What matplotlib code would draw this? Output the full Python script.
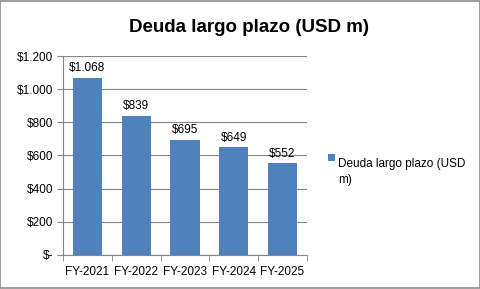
import matplotlib
matplotlib.use("Agg")
import matplotlib.pyplot as plt
from matplotlib.patches import Rectangle

years = ["FY-2021", "FY-2022", "FY-2023", "FY-2024", "FY-2025"]
debt = [1068, 839, 695, 649, 552]
value_labels = ["$1.068", "$839", "$695", "$649", "$552"]
y_ticks = [0, 200, 400, 600, 800, 1000, 1200]
y_tick_labels = ["$-", "$200", "$400", "$600", "$800", "$1.000", "$1.200"]
series_name = "Deuda largo plazo (USD m)"

BLUE = "#4F81BD"
GRID = "#868686"

plt.rcParams["font.family"] = ["Liberation Sans", "DejaVu Sans"]

fig = plt.figure(figsize=(4.81, 2.89), dpi=100)
fig.patches.append(Rectangle((0.001, 0.002), 0.997, 0.995, transform=fig.transFigure,
                             fill=False, edgecolor="#8C8C8C", linewidth=1.2))

ax = fig.add_axes([0.131, 0.118, 0.507, 0.688])
x = range(len(years))
ax.bar(x, debt, width=0.6, color=BLUE, zorder=3)
for i, (v, lab) in enumerate(zip(debt, value_labels)):
    ax.text(i, v + 22, lab, ha="center", va="bottom", fontsize=8.5, color="black")

ax.set_xlim(-0.5, len(years) - 0.5)
ax.set_ylim(0, 1200)
ax.set_yticks(y_ticks, y_tick_labels, fontsize=8.5)
ax.set_xticks(list(x), years, fontsize=8.5)
ax.set_xticks([i - 0.5 for i in range(len(years) + 1)], minor=True)
ax.tick_params(axis="x", which="major", length=0, pad=8)
ax.tick_params(axis="x", which="minor", length=4, color=GRID, direction="out")
ax.tick_params(axis="y", length=4, color=GRID, direction="out", pad=3)
ax.yaxis.grid(True, color=GRID, linewidth=0.8, zorder=0)
for side in ["top", "right"]:
    ax.spines[side].set_visible(False)
for side in ["left", "bottom"]:
    ax.spines[side].set_color(GRID)
    ax.spines[side].set_linewidth(0.8)

fig.text(0.518, 0.905, series_name, ha="center", va="center",
         fontsize=13.5, fontweight="bold")

# legend
fig.patches.append(Rectangle((0.682, 0.442), 0.0145, 0.024, transform=fig.transFigure,
                             facecolor=BLUE, edgecolor="none"))
fig.text(0.703, 0.455, "Deuda largo plazo (USD\nm)", ha="left", va="top",
         fontsize=8.5, linespacing=1.5, transform=fig.transFigure)

fig.savefig("out.png", dpi=100)
